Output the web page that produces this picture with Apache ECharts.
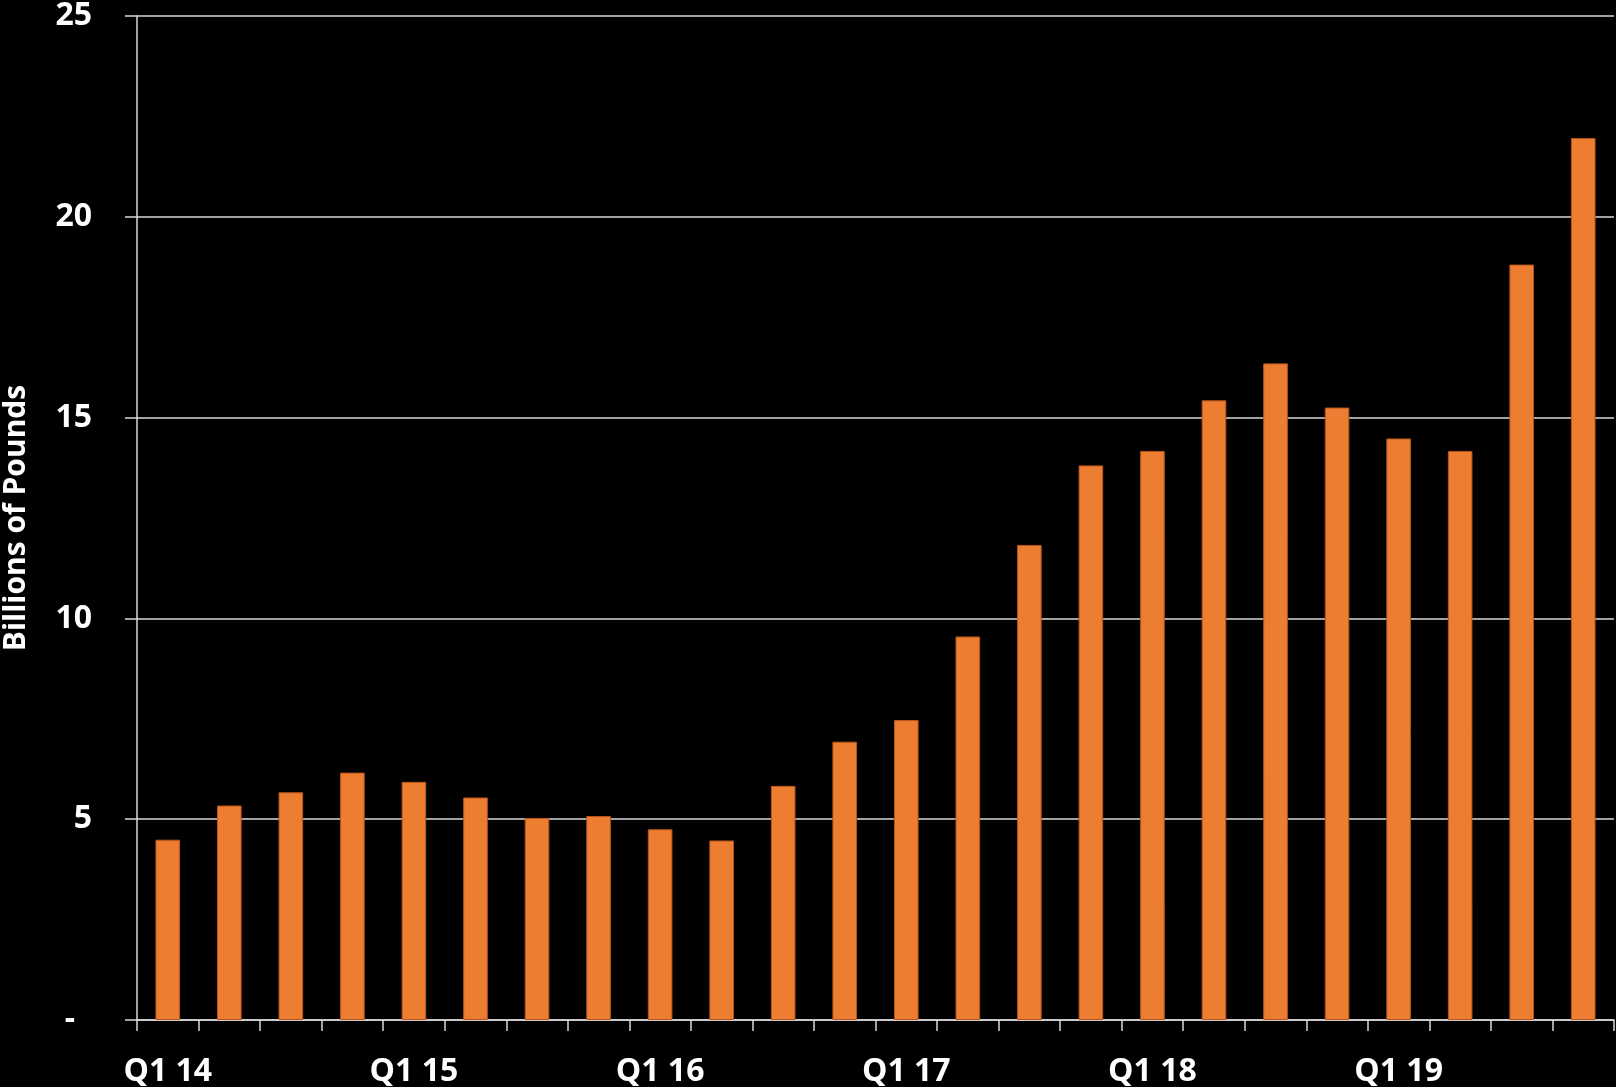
<!DOCTYPE html>
<html>
<head>
<meta charset="utf-8">
<script src="https://cdn.jsdelivr.net/npm/echarts@6/dist/echarts.min.js"></script>
<style>
  html, body { margin: 0; padding: 0; background: #000; }
  #chart { width: 1616px; height: 1087px; }
</style>
</head>
<body>
<div id="chart"></div>
<script>
// quarters, Q1 14 .. Q4 19
const quarters = [
  'Q1 14', 'Q2 14', 'Q3 14', 'Q4 14',
  'Q1 15', 'Q2 15', 'Q3 15', 'Q4 15',
  'Q1 16', 'Q2 16', 'Q3 16', 'Q4 16',
  'Q1 17', 'Q2 17', 'Q3 17', 'Q4 17',
  'Q1 18', 'Q2 18', 'Q3 18', 'Q4 18',
  'Q1 19', 'Q2 19', 'Q3 19', 'Q4 19'
]
// billions of pounds
const values = [
  4.49, 5.34, 5.67, 6.16,
  5.93, 5.54, 5.03, 5.08,
  4.75, 4.47, 5.83, 6.93,
  7.47, 9.55, 11.83, 13.81,
  14.17, 15.43, 16.35, 15.25,
  14.48, 14.17, 18.81, 21.96
]

const font = '"Open Sans", "Liberation Sans", sans-serif'
const lineColor = '#d9d9d9'

const chart = echarts.init(document.getElementById('chart'))
chart.setOption({
  backgroundColor: '#000',
  animation: false,
  grid: { left: 137, right: 2, top: 16, bottom: 67, containLabel: false, outerBoundsMode: 'none' },
  xAxis: {
    type: 'category',
    data: quarters,
    boundaryGap: true,
    axisLine: { lineStyle: { color: lineColor, width: 1.5 } },
    axisTick: { show: true, interval: 0, length: 11, lineStyle: { color: lineColor, width: 1.5 } },
    axisLabel: {
      interval: 3,
      color: '#fff',
      fontFamily: font,
      fontWeight: 'bold',
      fontSize: 32,
      margin: 36
    }
  },
  yAxis: {
    type: 'value',
    min: 0,
    max: 25,
    interval: 5,
    name: 'Billions of Pounds',
    nameLocation: 'middle',
    nameGap: 106,
    nameTextStyle: { color: '#fff', fontFamily: font, fontWeight: 'bold', fontSize: 30 },
    axisLine: { show: true, lineStyle: { color: lineColor, width: 1.5 } },
    axisTick: { show: true, length: 12, lineStyle: { color: lineColor, width: 1.5 } },
    splitLine: { lineStyle: { color: lineColor, width: 1.5 } },
    axisLabel: {
      color: '#fff',
      fontFamily: font,
      fontWeight: 'bold',
      fontSize: 32,
      margin: 45,
      // zero is shown as a dash, set in from the right like Excel's accounting format
      formatter: (v) => (v === 0 ? '{dash|-}' : String(v)),
      rich: {
        dash: { color: '#fff', fontFamily: font, fontWeight: 'bold', fontSize: 32, padding: [0, 17, 0, 0] }
      }
    }
  },
  series: [
    {
      type: 'bar',
      data: values,
      barWidth: '40%',
      itemStyle: { color: '#ED7D31', borderColor: '#B8561C', borderWidth: 1 }
    }
  ]
})
</script>
</body>
</html>
